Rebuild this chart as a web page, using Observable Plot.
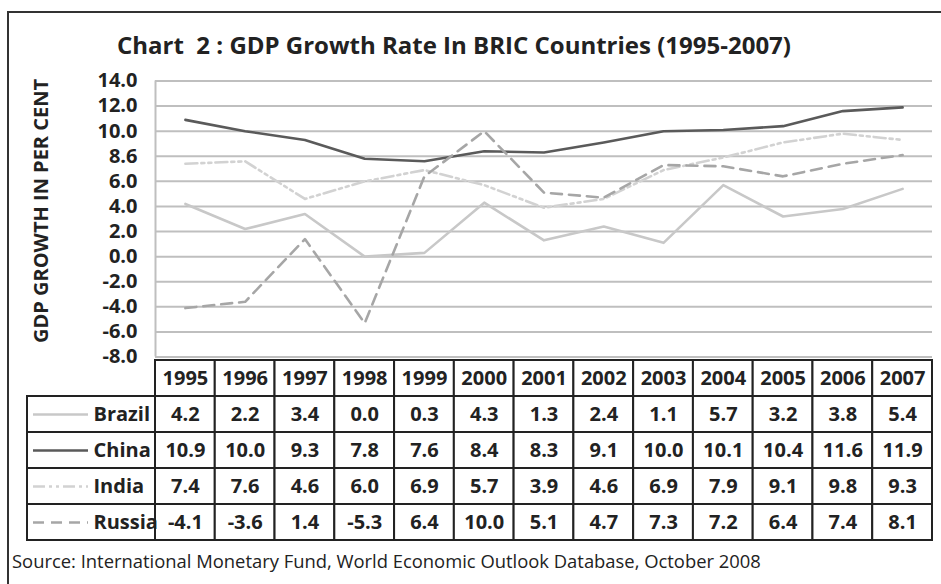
<!DOCTYPE html>
<html>
<head>
<meta charset="utf-8">
<script src="https://cdn.jsdelivr.net/npm/d3@7"></script>
<script src="https://cdn.jsdelivr.net/npm/@observablehq/plot@0.6"></script>
<style>
  html, body { margin: 0; padding: 0; background: #fff; }
  body { width: 941px; height: 584px; overflow: hidden; position: relative; font-family: "Open Sans", sans-serif; color: #222; }
  #frame { position: absolute; left: 7px; top: 11px; width: 960px; height: 620px; border: 2px solid #333; box-sizing: border-box; }
  #title { position: relative; height: 62px; box-sizing: border-box; padding-top: 30px; line-height: 30px; padding-left: 117px; font-weight: 700; font-size: 24px; white-space: nowrap; }
  #source { position: relative; box-sizing: border-box; padding-top: 7px; line-height: 24px; padding-left: 12px; font-size: 18.4px; white-space: nowrap; }
  svg { display: block; overflow: visible; }
  #chart { position: relative; z-index: 2; }
</style>
</head>
<body>
<div id="frame"></div>
<div id="title">Chart&nbsp; 2 : GDP Growth Rate In BRIC Countries (1995-2007)</div>
<div id="chart"></div>
<div id="table"></div>
<div id="source">Source: International Monetary Fund, World Economic Outlook Database, October 2008</div>
<script>
// ---- data ----
const years = [1995, 1996, 1997, 1998, 1999, 2000, 2001, 2002, 2003, 2004, 2005, 2006, 2007];
const countries = ["Brazil", "China", "India", "Russia"];
const brazil = [4.2, 2.2, 3.4, 0.0, 0.3, 4.3, 1.3, 2.4, 1.1, 5.7, 3.2, 3.8, 5.4];
const china  = [10.9, 10.0, 9.3, 7.8, 7.6, 8.4, 8.3, 9.1, 10.0, 10.1, 10.4, 11.6, 11.9];
const india  = [7.4, 7.6, 4.6, 6.0, 6.9, 5.7, 3.9, 4.6, 6.9, 7.9, 9.1, 9.8, 9.3];
const russia = [-4.1, -3.6, 1.4, -5.3, 6.4, 10.0, 5.1, 4.7, 7.3, 7.2, 6.4, 7.4, 8.1];
const tickValues = [14, 12, 10, 8, 6, 4, 2, 0, -2, -4, -6, -8];
const tickLabels = ["14.0", "12.0", "10.0", "8.6", "6.0", "4.0", "2.0", "0.0", "-2.0", "-4.0", "-6.0", "-8.0"];
const yTitle = "GDP GROWTH IN PER CENT";

// ---- styles ----
const styles = {
  Brazil: {stroke: "#c8c8c8", dash: null},
  China:  {stroke: "#5a5a5a", dash: null},
  India:  {stroke: "#d2d2d2", dash: "12,4,3,4,3,4"},
  Russia: {stroke: "#a6a6a6", dash: "11,7"}
};
const seriesValues = {Brazil: brazil, China: china, India: india, Russia: russia};
const rows = countries.flatMap(c => years.map((yr, i) => ({country: c, year: yr, value: seriesValues[c][i]})));

const W = 941, plotLeft = 155, plotRight = 932;
const colW = (plotRight - plotLeft) / years.length;
const x0 = years[0] - 0.5, x1 = years[years.length - 1] + 0.5;
const font = "'Open Sans', sans-serif";

// ---- line chart ----
const lineMarks = countries.map(c => Plot.line(rows.filter(d => d.country === c), {
  x: "year", y: "value", stroke: styles[c].stroke, strokeWidth: 2.6,
  strokeDasharray: styles[c].dash, strokeLinejoin: "round"
}));

const chart = Plot.plot({
  width: W, height: 296,
  marginLeft: plotLeft, marginRight: W - plotRight, marginTop: 18.5, marginBottom: 1.5,
  style: {fontFamily: font, color: "#222", background: "transparent", overflow: "visible"},
  x: {domain: [x0, x1], axis: null},
  y: {domain: [-8, 14], axis: null},
  marks: [
    Plot.ruleY(tickValues, {x1: x0, x2: x1, stroke: "#bfbfbf", strokeWidth: 2}),
    Plot.ruleX([x0], {y1: -8, y2: 14, stroke: "#bfbfbf", strokeWidth: 2}),
    ...lineMarks,
    Plot.axisY({ticks: tickValues, tickFormat: d => tickLabels[tickValues.indexOf(d)], tickSize: 0, tickPadding: 18,
      fontSize: 20, fontWeight: 700, label: null}),
    Plot.text([yTitle], {frameAnchor: "left", textAnchor: "middle", dx: -114, dy: -8, rotate: -90, fontSize: 20, fontWeight: 700, fill: "#222"})
  ]
});
document.getElementById("chart").appendChild(chart);

// ---- data table ----
const tableLeft = 27;
const tx0 = x0 - (plotLeft - tableLeft) / colW;
const keyA = tx0 + 6 / colW, keyB = tx0 + 61 / colW, labelX = tx0 + 66 / colW;
const rowDomain = ["header", ...countries];
const border = {stroke: "#222", strokeWidth: 2, fill: "white", inset: 0};

const table = Plot.plot({
  width: W, height: 184,
  marginLeft: tableLeft, marginRight: W - plotRight, marginTop: 1, marginBottom: 2,
  style: {fontFamily: font, color: "#222", background: "transparent"},
  x: {domain: [tx0, x1], axis: null},
  y: {type: "band", domain: rowDomain, padding: 0, axis: null},
  marks: [
    Plot.barX(years, {x1: d => d - 0.5, x2: d => d + 0.5, y: () => "header", ...border}),
    Plot.barX(countries, {x1: () => tx0, x2: () => x0, y: d => d, ...border}),
    Plot.barX(rows, {x1: d => d.year - 0.5, x2: d => d.year + 0.5, y: "country", ...border}),
    Plot.text(years, {x: d => d, y: () => "header", text: d => String(d), fontSize: 20, fontWeight: 700, fill: "#222"}),
    Plot.text(rows, {x: "year", y: "country", text: d => d.value.toFixed(1), fontSize: 20, fontWeight: 700, fill: "#222"}),
    Plot.text(countries, {x: () => labelX, y: d => d, text: d => d, textAnchor: "start", fontSize: 20, fontWeight: 700, fill: "#222"}),
    ...countries.map(c => Plot.ruleY([c], {y: d => d, x1: keyA, x2: keyB, stroke: styles[c].stroke, strokeWidth: 2.6, strokeDasharray: styles[c].dash}))
  ]
});
document.getElementById("table").appendChild(table);
</script>
</body>
</html>
